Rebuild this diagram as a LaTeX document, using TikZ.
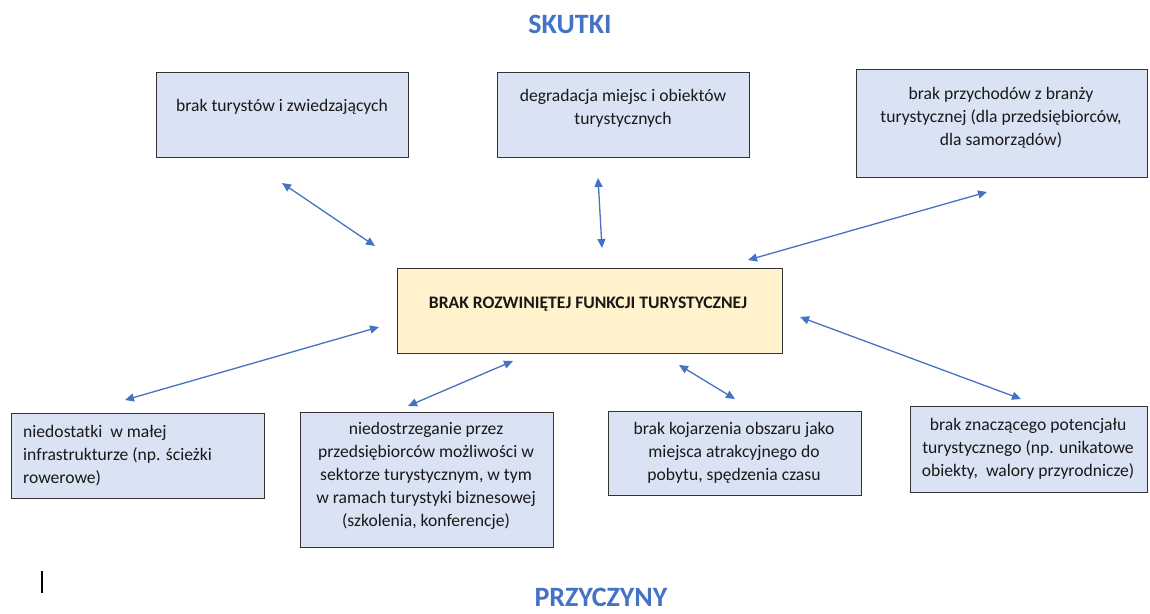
\documentclass[tikz,border=0pt]{standalone}
\usepackage{fontspec}
\setmainfont{Carlito}
\usetikzlibrary{arrows.meta}
\definecolor{boxblue}{HTML}{DAE3F3}
\definecolor{boxyellow}{HTML}{FFF2CC}
\definecolor{arrowblue}{HTML}{4472C4}
\definecolor{edgegray}{HTML}{333333}
\begin{document}
\begin{tikzpicture}[x=1pt,y=-1pt,
  bx/.style={draw=edgegray,line width=1.1pt,fill=boxblue,anchor=north west,inner sep=0pt},
  cbx/.style={bx,fill=boxyellow},
  txt/.style={inner sep=0pt,align=center,font=\fontsize{17.6}{23}\selectfont,text=black!90,anchor=north},
  ttl/.style={inner sep=0pt,anchor=base,font=\fontsize{28}{34}\selectfont\bfseries,text=arrowblue},
  arr/.style={draw=arrowblue,line width=1.3pt,{Triangle[length=9pt,width=8pt]}-{Triangle[length=9pt,width=8pt]}}]
\useasboundingbox (0,0) rectangle (1150,613);

% titles
\node[ttl] (skutki) at (570,33) {SKUTKI};
\node[ttl] (przyczyny) at (601,606) {PRZYCZYNY};

% effect boxes (top)
\node[bx,minimum width=252pt,minimum height=85pt] (s1) at (156,72) {};
\node[txt] (s1t) at (282,95) {\strut brak turystów i zwiedzających};
\node[bx,minimum width=252pt,minimum height=85pt] (s2) at (497,72) {};
\node[txt] (s2t) at (623,85) {\strut degradacja miejsc i obiektów\\turystycznych};
\node[bx,minimum width=291pt,minimum height=108pt] (s3) at (856,69) {};
\node[txt] (s3t) at (1001,83) {\strut brak przychodów z branży\\turystycznej (dla przedsiębiorców,\\dla samorządów)};

% central box
\node[cbx,minimum width=385pt,minimum height=85pt] (c) at (397,268) {};
\node[txt,font=\fontsize{17.6}{23}\selectfont\bfseries] (ct) at (588,292) {\strut BRAK ROZWINIĘTEJ FUNKCJI TURYSTYCZNEJ};

% cause boxes (bottom)
\node[bx,minimum width=253pt,minimum height=85pt] (p1) at (11,413) {};
\node[txt,align=left,anchor=north west] (p1t) at (23,421) {\strut niedostatki\ \ w małej\\infrastrukturze (np. ścieżki\\rowerowe)};
\node[bx,minimum width=253pt,minimum height=135pt] (p2) at (300,412) {};
\node[txt] (p2t) at (426,418) {\strut niedostrzeganie przez\\przedsiębiorców możliwości w\\sektorze turystycznym, w tym\\w ramach turystyki biznesowej\\(szkolenia, konferencje)};
\node[bx,minimum width=253pt,minimum height=84pt] (p3) at (608,411) {};
\node[txt] (p3t) at (734,418) {\strut brak kojarzenia obszaru jako\\miejsca atrakcyjnego do\\pobytu, spędzenia czasu};
\node[bx,minimum width=237pt,minimum height=86pt] (p4) at (910,406) {};
\node[txt] (p4t) at (1028,414) {\strut brak znaczącego potencjału\\turystycznego (np. unikatowe\\obiekty,\ \ walory przyrodnicze)};

% arrow end points
\coordinate (a1s) at (282,183); \coordinate (a1e) at (375,246);
\coordinate (a2s) at (598,178); \coordinate (a2e) at (602,248);
\coordinate (a3s) at (987,192); \coordinate (a3e) at (748,260);
\coordinate (a4s) at (379,327); \coordinate (a4e) at (125,400);
\coordinate (a5s) at (513,361); \coordinate (a5e) at (408,406);
\coordinate (a6s) at (679,365); \coordinate (a6e) at (735,399);
\coordinate (a7s) at (800,317); \coordinate (a7e) at (1021,399);
\draw[arr] (a1s) -- (a1e);
\draw[arr] (a2s) -- (a2e);
\draw[arr] (a3s) -- (a3e);
\draw[arr] (a4s) -- (a4e);
\draw[arr] (a5s) -- (a5e);
\draw[arr] (a6s) -- (a6e);
\draw[arr] (a7s) -- (a7e);

% text cursor mark
\coordinate (cur1) at (42,571); \coordinate (cur2) at (42,593);
\draw[line width=1.2pt,black] (cur1) -- (cur2);
\end{tikzpicture}
\end{document}
